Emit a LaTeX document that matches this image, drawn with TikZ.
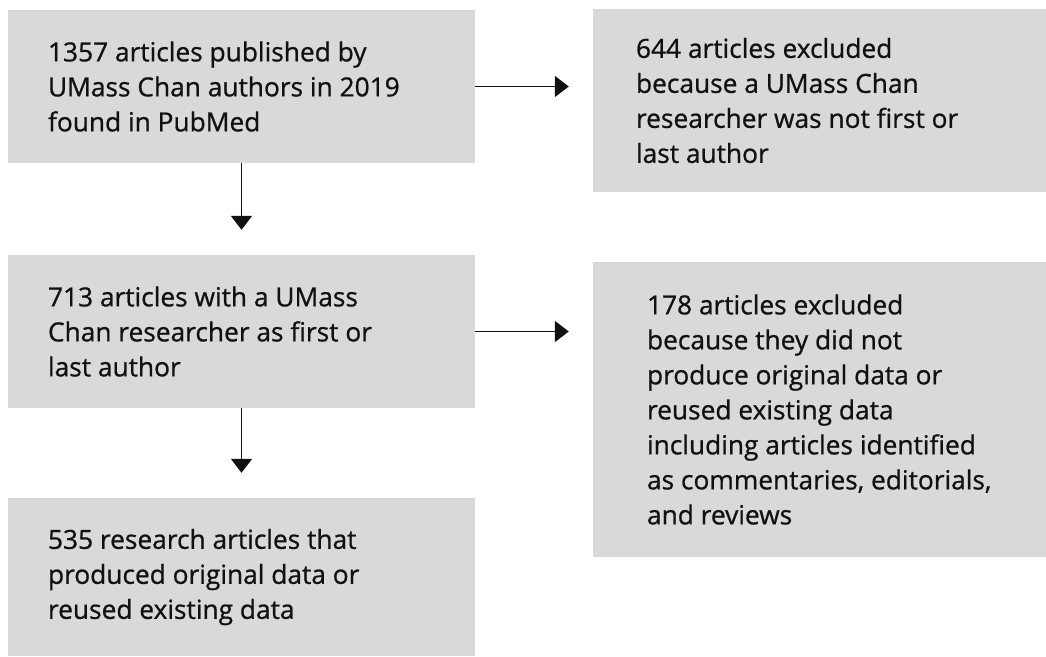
\documentclass[tikz,border=0pt]{standalone}
\usepackage{fontspec}
\setmainfont[FakeBold=0.8]{Open Sans}
\usetikzlibrary{arrows.meta,calc}
\definecolor{boxgray}{HTML}{D9D9D9}
\definecolor{inkc}{HTML}{111111}
\tikzset{
  flowbox/.style={fill=boxgray, draw=none, inner sep=0pt, rectangle},
  flowtext/.style={anchor=west, inner sep=0pt, align=left, text=inkc,
    font=\fontsize{26.3}{35}\selectfont},
  flowarrow/.style={line width=1.8pt, draw=inkc, -{Triangle[length=14pt,width=21pt]}}
}
\begin{document}
\begin{tikzpicture}[x=1pt,y=-1pt]
\useasboundingbox (0,0) rectangle (1046,656);
% boxes
\node[flowbox, minimum width=467pt, minimum height=153pt] (b1) at (241.5,86.5) {};
\node[flowbox, minimum width=453pt, minimum height=183pt] (b2) at (819.5,100.5) {};
\node[flowbox, minimum width=467pt, minimum height=153pt] (b3) at (241.5,331.5) {};
\node[flowbox, minimum width=453pt, minimum height=295pt] (b4) at (819.5,409.5) {};
\node[flowbox, minimum width=467pt, minimum height=158pt] (b5) at (241.5,577) {};
% texts
\node[flowtext] (t1) at ([xshift=40pt]b1.west) {1357 articles published by\\UMass Chan authors in 2019\\found in PubMed};
\node[flowtext] (t2) at ([xshift=43pt]b2.west) {644 articles excluded\\because a UMass Chan\\researcher was not first or\\last author};
\node[flowtext] (t3) at ([xshift=40pt]b3.west) {713 articles with a UMass\\Chan researcher as first or\\last author};
\node[flowtext] (t4) at ([xshift=54pt]b4.west) {178 articles excluded\\because they did not\\produce original data or\\reused existing data\\including articles identified\\as commentaries, editorials,\\and reviews};
\node[flowtext] (t5) at ([xshift=40pt]b5.west) {535 research articles that\\produced original data or\\reused existing data};
% arrows
\draw[flowarrow, shorten >=24pt] (b1.east) -- (b1.east -| b2.west);
\draw[flowarrow, shorten >=24pt] (b3.east) -- (b3.east -| b4.west);
\draw[flowarrow, shorten >=25pt] (b1.south) -- (b3.north);
\draw[flowarrow, shorten >=25pt] (b3.south) -- (b5.north);
\end{tikzpicture}
\end{document}
